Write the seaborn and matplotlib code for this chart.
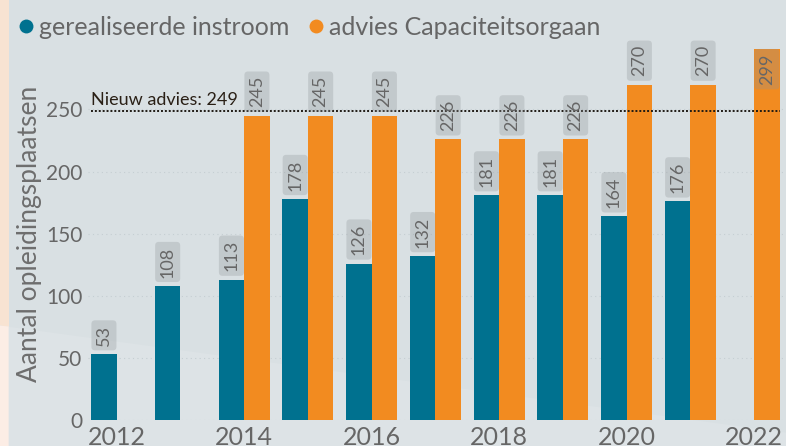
import numpy as np
import pandas as pd
import matplotlib
matplotlib.use('Agg')
import matplotlib.pyplot as plt
from matplotlib.patches import Polygon
from matplotlib.lines import Line2D
import seaborn as sns

# data
years = list(range(2012, 2023))
instroom = [53, 108, 113, 178, 126, 132, 181, 181, 164, 176, np.nan]
advies = [np.nan, np.nan, 245, 245, 245, 226, 226, 226, 270, 270, 299]
nieuw_advies = 249

series_names = ['gerealiseerde instroom', 'advies Capaciteitsorgaan']
colors = ['#00718f', '#f28b20']
xtick_years = list(range(2012, 2023, 2))
yticks = [0, 50, 100, 150, 200, 250]

BG = '#d9e0e3'
GREY_TXT = '#666666'

df = pd.DataFrame({
    'jaar': years * 2,
    'waarde': instroom + advies,
    'serie': [series_names[0]] * len(years) + [series_names[1]] * len(years),
}).dropna()

sns.set_theme(style='white')
plt.rcParams['font.family'] = ['Lato', 'DejaVu Sans']

fig = plt.figure(figsize=(7.86, 4.46), dpi=100, facecolor=BG)

# soft background shapes (peach strip on the left, lighter lower band)
fig.patches.append(Polygon([(0, 0), (0.011, 0), (0.011, 1), (0, 1)], closed=True,
                           transform=fig.transFigure, facecolor='#f8e3d2', edgecolor='none', zorder=-10))
fig.patches.append(Polygon([(0, 0.27), (1, 0.03), (1, 0), (0, 0)], closed=True,
                           transform=fig.transFigure, facecolor='#dde3e6', edgecolor='none', zorder=-9))
fig.patches.append(Polygon([(0, 0.27), (0.011, 0.268), (0.011, 0), (0, 0)], closed=True,
                           transform=fig.transFigure, facecolor='#fcede5', edgecolor='none', zorder=-8))

ax = fig.add_axes([88 / 786, 26 / 446, 698 / 786, 372.6 / 446])
ax.set_facecolor('none')

sns.barplot(data=df, x='jaar', y='waarde', hue='serie', hue_order=series_names,
            palette=colors, native_scale=True, dodge=True, width=0.8,
            saturation=1, errorbar=None, legend=False, linewidth=0, ax=ax, zorder=3)

ax.set_xlim(2011.55, 2022.5)
ax.set_ylim(0, 300)
for s in ax.spines.values():
    s.set_visible(False)

ax.set_xticks(xtick_years)
ax.set_xticklabels([str(y) for y in xtick_years], fontsize=18, color=GREY_TXT)
ax.set_yticks(yticks)
ax.set_yticklabels([str(v) for v in yticks], fontsize=15, color=GREY_TXT)
ax.tick_params(axis='both', length=0)
ax.tick_params(axis='x', pad=4)
ax.tick_params(axis='y', pad=4)
ax.yaxis.grid(True, color='#c5ced2', linestyle=(0, (1, 3)), linewidth=0.8)
ax.set_axisbelow(True)
ax.set_xlabel('')
ax.set_ylabel('Aantal opleidingsplaatsen', fontsize=19, color='#6e6e6e', labelpad=3)

# value labels in grey boxes above the bars
box = dict(boxstyle='round,pad=0.25,rounding_size=0.2', facecolor='#8f9497',
           alpha=0.3, edgecolor='none')
for p in ax.patches:
    h = p.get_height()
    if not np.isfinite(h) or h <= 0:
        continue
    xc = p.get_x() + p.get_width() / 2
    if h + 30 > ax.get_ylim()[1]:
        ax.annotate(f'{h:.0f}', (xc, h), xytext=(0, -3.5), textcoords='offset points',
                    rotation=90, ha='center', va='top', fontsize=13, color=GREY_TXT,
                    bbox=box, zorder=5, annotation_clip=False)
    else:
        ax.annotate(f'{h:.0f}', (xc, h), xytext=(0, 6), textcoords='offset points',
                    rotation=90, ha='center', va='bottom', fontsize=13, color=GREY_TXT,
                    bbox=box, zorder=5, annotation_clip=False)

# new advice line
ax.axhline(nieuw_advies, xmin=0.004, xmax=0.991, color='#1f1a14',
           linestyle=(0, (1, 1)), linewidth=1.4, zorder=4)
ax.text(2011.6, nieuw_advies + 2, f'Nieuw advies: {nieuw_advies}', fontsize=13,
        color='#2a2016', ha='left', va='bottom', zorder=6)

handles = [Line2D([0], [0], marker='o', linestyle='none', markersize=10,
                  markerfacecolor=c, markeredgecolor='none') for c in colors]
fig.legend(handles, series_names, loc='upper left', bbox_to_anchor=(-0.005, 1.015),
           ncol=2, frameon=False, handlelength=0.6, handletextpad=0.2,
           columnspacing=0.8, fontsize=18, labelcolor=GREY_TXT)

plt.savefig('out.png', dpi=100, facecolor=BG)
plt.close()
